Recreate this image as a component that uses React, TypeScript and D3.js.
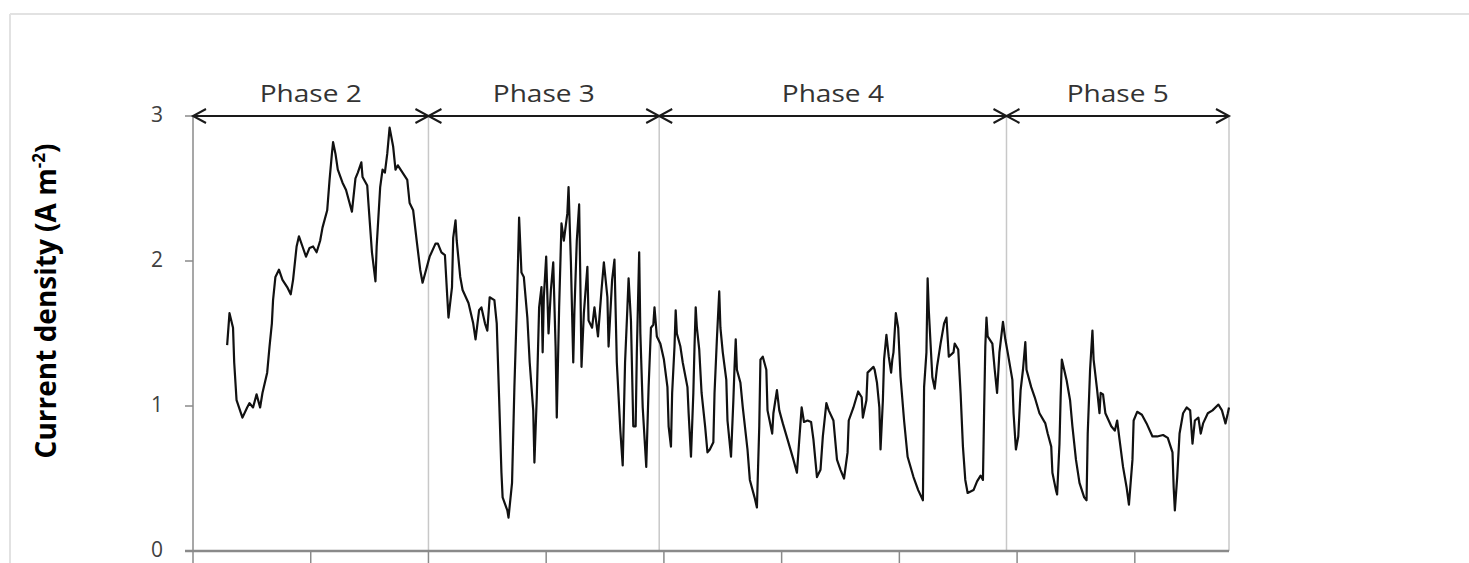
import React from 'react';
import * as d3 from 'd3';

// time axis (days) and measured current density (A m-2)
const time = [
  0.29, 0.31, 0.34, 0.35, 0.37, 0.42, 0.46, 0.48, 0.51, 0.54, 0.57, 0.59, 0.63, 0.65, 0.67, 0.68, 0.7, 0.73, 0.76, 0.8,
  0.83, 0.85, 0.88, 0.9, 0.93, 0.96, 0.99, 1.02, 1.05, 1.08, 1.1, 1.14, 1.16, 1.18, 1.19, 1.21, 1.23, 1.27, 1.3, 1.35,
  1.38, 1.4, 1.43, 1.44, 1.48, 1.49, 1.52, 1.55, 1.56, 1.59, 1.61, 1.63, 1.65, 1.67, 1.7, 1.72, 1.74, 1.78, 1.82, 1.84,
  1.87, 1.9, 1.93, 1.95, 1.98, 2.01, 2.06, 2.08, 2.11, 2.14, 2.16, 2.17, 2.2, 2.21, 2.23, 2.24, 2.27, 2.29, 2.34, 2.38,
  2.4, 2.43, 2.45, 2.48, 2.5, 2.52, 2.56, 2.58, 2.6, 2.62, 2.63, 2.67, 2.68, 2.71, 2.73, 2.75, 2.77, 2.79, 2.81, 2.84,
  2.86, 2.89, 2.9, 2.92, 2.94, 2.96, 2.97, 2.98, 3.0, 3.02, 3.04, 3.06, 3.08, 3.09, 3.11, 3.13, 3.15, 3.18, 3.19, 3.21,
  3.23, 3.24, 3.26, 3.28, 3.29, 3.3, 3.32, 3.35, 3.36, 3.39, 3.41, 3.44, 3.47, 3.49, 3.52, 3.53, 3.56, 3.58, 3.6, 3.63,
  3.65, 3.67, 3.69, 3.7, 3.72, 3.74, 3.76, 3.77, 3.79, 3.8, 3.82, 3.85, 3.87, 3.89, 3.91, 3.92, 3.94, 3.97, 4.0, 4.03,
  4.04, 4.06, 4.07, 4.09, 4.1, 4.11, 4.14, 4.16, 4.2, 4.21, 4.23, 4.25, 4.26, 4.27, 4.28, 4.3, 4.32, 4.35, 4.37, 4.39,
  4.42, 4.43, 4.45, 4.47, 4.48, 4.5, 4.53, 4.54, 4.57, 4.59, 4.6, 4.61, 4.62, 4.65, 4.67, 4.71, 4.73, 4.77, 4.79, 4.81,
  4.82, 4.84, 4.87, 4.88, 4.92, 4.93, 4.96, 4.98, 5.01, 5.05, 5.1, 5.13, 5.15, 5.17, 5.19, 5.22, 5.25, 5.27, 5.3, 5.33,
  5.35, 5.38, 5.4, 5.44, 5.47, 5.5, 5.53, 5.56, 5.57, 5.61, 5.65, 5.68, 5.69, 5.72, 5.73, 5.78, 5.79, 5.81, 5.83, 5.84,
  5.86, 5.87, 5.89, 5.91, 5.93, 5.94, 5.95, 5.97, 5.99, 6.01, 6.04, 6.07, 6.12, 6.16, 6.2, 6.21, 6.23, 6.24, 6.25, 6.28,
  6.3, 6.32, 6.35, 6.38, 6.4, 6.42, 6.46, 6.47, 6.5, 6.52, 6.54, 6.56, 6.58, 6.63, 6.66, 6.69, 6.71, 6.72, 6.73, 6.74,
  6.75, 6.79, 6.81, 6.83, 6.85, 6.88, 6.9, 6.92, 6.96, 6.97, 6.99, 7.01, 7.03, 7.05, 7.07, 7.08, 7.12, 7.15, 7.19, 7.24,
  7.26, 7.29, 7.3, 7.33, 7.34, 7.36, 7.37, 7.38, 7.4, 7.42, 7.45, 7.47, 7.5, 7.53, 7.57, 7.59, 7.6, 7.62, 7.64, 7.65,
  7.68, 7.7, 7.71, 7.73, 7.75, 7.8, 7.83, 7.85, 7.87, 7.9, 7.93, 7.95, 7.98, 7.99, 8.02, 8.06, 8.1, 8.15, 8.19, 8.24,
  8.28, 8.32, 8.33, 8.34, 8.36, 8.38, 8.41, 8.44, 8.47, 8.49, 8.51, 8.54, 8.56, 8.58, 8.62, 8.66, 8.71, 8.74, 8.77, 8.79,
  8.8,
];

const current = [
  1.42, 1.64, 1.54, 1.3, 1.04, 0.92, 0.99, 1.02, 0.99, 1.08, 0.99, 1.09, 1.23, 1.41, 1.57, 1.73, 1.89, 1.94, 1.87, 1.82,
  1.77, 1.87, 2.1, 2.17, 2.1, 2.03, 2.09, 2.1, 2.06, 2.14, 2.23, 2.35, 2.56, 2.74, 2.82, 2.74, 2.63, 2.54, 2.49, 2.34,
  2.57, 2.61, 2.68, 2.58, 2.52, 2.4, 2.06, 1.86, 2.1, 2.51, 2.63, 2.61, 2.74, 2.92, 2.79, 2.63, 2.66, 2.61, 2.56, 2.4,
  2.35, 2.14, 1.94, 1.85, 1.94, 2.03, 2.12, 2.12, 2.06, 2.04, 1.75, 1.61, 1.82, 2.16, 2.28, 2.14, 1.89, 1.8, 1.71, 1.57,
  1.46, 1.66, 1.68, 1.57, 1.52, 1.75, 1.73, 1.57, 1.06, 0.54, 0.37, 0.28, 0.23, 0.47, 1.13, 1.66, 2.3, 1.92, 1.89, 1.61,
  1.3, 0.97, 0.61, 1.06, 1.68, 1.82, 1.37, 1.75, 2.03, 1.5, 1.8, 1.99, 1.41, 0.92, 1.68, 2.26, 2.14, 2.33, 2.51, 1.99,
  1.3, 1.66, 2.14, 2.39, 1.87, 1.27, 1.64, 1.96, 1.59, 1.54, 1.68, 1.48, 1.8, 1.99, 1.75, 1.41, 1.87, 2.01, 1.3, 0.83,
  0.59, 1.3, 1.68, 1.88, 1.59, 0.86, 0.86, 1.37, 2.06, 1.5, 0.99, 0.58, 1.13, 1.54, 1.56, 1.68, 1.48, 1.43, 1.32, 1.13,
  0.86, 0.72, 1.09, 1.41, 1.66, 1.5, 1.41, 1.3, 1.13, 0.95, 0.65, 1.09, 1.41, 1.68, 1.54, 1.39, 1.09, 0.86, 0.68, 0.7,
  0.75, 1.09, 1.46, 1.79, 1.54, 1.37, 1.18, 0.9, 0.65, 1.04, 1.27, 1.46, 1.25, 1.16, 0.99, 0.7, 0.49, 0.37, 0.3, 0.86,
  1.32, 1.34, 1.25, 0.97, 0.81, 0.95, 1.11, 0.97, 0.88, 0.77, 0.63, 0.54, 0.77, 0.99, 0.89, 0.9, 0.89, 0.77, 0.51, 0.56,
  0.79, 1.02, 0.97, 0.9, 0.63, 0.56, 0.5, 0.68, 0.9, 0.99, 1.1, 1.06, 0.92, 1.04, 1.23, 1.27, 1.25, 1.16, 0.99, 0.7,
  1.04, 1.32, 1.49, 1.34, 1.23, 1.32, 1.37, 1.64, 1.54, 1.2, 0.9, 0.65, 0.51, 0.42, 0.35, 1.13, 1.37, 1.88, 1.66, 1.2,
  1.12, 1.27, 1.43, 1.57, 1.61, 1.34, 1.37, 1.43, 1.39, 1.09, 0.72, 0.49, 0.4, 0.42, 0.48, 0.52, 0.49, 0.97, 1.41, 1.61,
  1.48, 1.43, 1.25, 1.09, 1.37, 1.58, 1.46, 1.37, 1.18, 0.95, 0.7, 0.79, 1.11, 1.25, 1.44, 1.25, 1.13, 1.06, 0.95, 0.88,
  0.81, 0.72, 0.54, 0.42, 0.39, 0.74, 1.06, 1.32, 1.25, 1.18, 1.04, 0.86, 0.63, 0.47, 0.37, 0.35, 0.81, 1.25, 1.52, 1.32,
  1.11, 0.95, 1.09, 1.08, 0.95, 0.86, 0.83, 0.9, 0.77, 0.58, 0.44, 0.32, 0.63, 0.9, 0.96, 0.94, 0.88, 0.79, 0.79, 0.8,
  0.78, 0.68, 0.44, 0.28, 0.51, 0.81, 0.95, 0.99, 0.97, 0.74, 0.9, 0.92, 0.81, 0.88, 0.95, 0.97, 1.01, 0.97, 0.88, 0.95,
  0.99,
];

const phaseBounds = [0, 2.0, 3.96, 6.91, 8.8];
const phaseLabels = ['Phase 2', 'Phase 3', 'Phase 4', 'Phase 5'];
const yTicks = [0, 1, 2, 3];
const xTicks = [0, 1, 2, 3, 4, 5, 6, 7, 8];

const W = 1469;
const H = 563;
const font = '"Open Sans", "DejaVu Sans", sans-serif';

export default function App() {
  const x = d3.scaleLinear().domain([0, 8.8]).range([193, 1229]);
  const y = d3.scaleLinear().domain([0, 3]).range([551, 116]);

  const points: [number, number][] = time.map((t, i) => [t, current[i]]);
  const line = d3
    .line<[number, number]>()
    .x(d => x(d[0]))
    .y(d => y(d[1]));

  const top = y(3);
  const bottom = y(0);
  const ah = 13; // arrowhead length
  const aw = 7; // arrowhead half-width

  return (
    <svg
      width={W}
      height={H}
      style={{ position: 'absolute', left: 0, top: 0, background: '#fff' }}
      fontFamily={font}
    >
      {/* chart frame */}
      <line x1={10} x2={W} y1={14} y2={14} stroke="#e2e2e2" strokeWidth={2} />
      <line x1={10} x2={10} y1={14} y2={H} stroke="#e2e2e2" strokeWidth={2} />

      {/* phase separators */}
      {phaseBounds.slice(1).map((b, i) => (
        <line key={i} x1={x(b)} x2={x(b)} y1={top} y2={bottom} stroke="#c8c8c8" strokeWidth={1.5} />
      ))}

      {/* y axis */}
      <line x1={x(0)} x2={x(0)} y1={top} y2={bottom} stroke="#8a8a8a" strokeWidth={1.5} />
      {yTicks.map(t => (
        <g key={t}>
          <line x1={x(0) - 8} x2={x(0)} y1={y(t)} y2={y(t)} stroke="#8a8a8a" strokeWidth={1.5} />
          <text x={163} y={y(t)} dy="0.3em" textAnchor="end" fontSize={21} fill="#404040">
            {t}
          </text>
        </g>
      ))}

      {/* x axis */}
      <line x1={x(0) - 8} x2={x(8.8)} y1={bottom} y2={bottom} stroke="#8a8a8a" strokeWidth={2.5} />
      {xTicks.map(t => (
        <line key={t} x1={x(t)} x2={x(t)} y1={bottom} y2={bottom + 14} stroke="#8a8a8a" strokeWidth={1.5} />
      ))}

      {/* y axis title */}
      <text
        transform={`translate(56,${301}) rotate(-90)`}
        textAnchor="middle"
        fontSize={28}
        fontWeight="bold"
        fill="#000"
      >
        Current density (A m
        <tspan dy={-11} fontSize={17}>-2</tspan>
        <tspan dy={11}>)</tspan>
      </text>

      {/* phase arrows */}
      {phaseLabels.map((label, i) => {
        const x0 = x(phaseBounds[i]);
        const x1 = x(phaseBounds[i + 1]);
        return (
          <g key={label}>
            <line x1={x0} x2={x1} y1={top} y2={top} stroke="#1a1a1a" strokeWidth={2} />
            <path
              d={`M${x0 + ah},${top - aw}L${x0},${top}L${x0 + ah},${top + aw}`}
              fill="none"
              stroke="#1a1a1a"
              strokeWidth={2}
            />
            <path
              d={`M${x1 - ah},${top - aw}L${x1},${top}L${x1 - ah},${top + aw}`}
              fill="none"
              stroke="#1a1a1a"
              strokeWidth={2}
            />
            <text
              transform={`translate(${(x0 + x1) / 2},${top - 14}) scale(1.17,1)`}
              textAnchor="middle"
              fontSize={24}
              fill="#333"
            >
              {label}
            </text>
          </g>
        );
      })}

      {/* current density series */}
      <path d={line(points) ?? ''} fill="none" stroke="#111" strokeWidth={2.2} strokeLinejoin="round" />
    </svg>
  );
}
